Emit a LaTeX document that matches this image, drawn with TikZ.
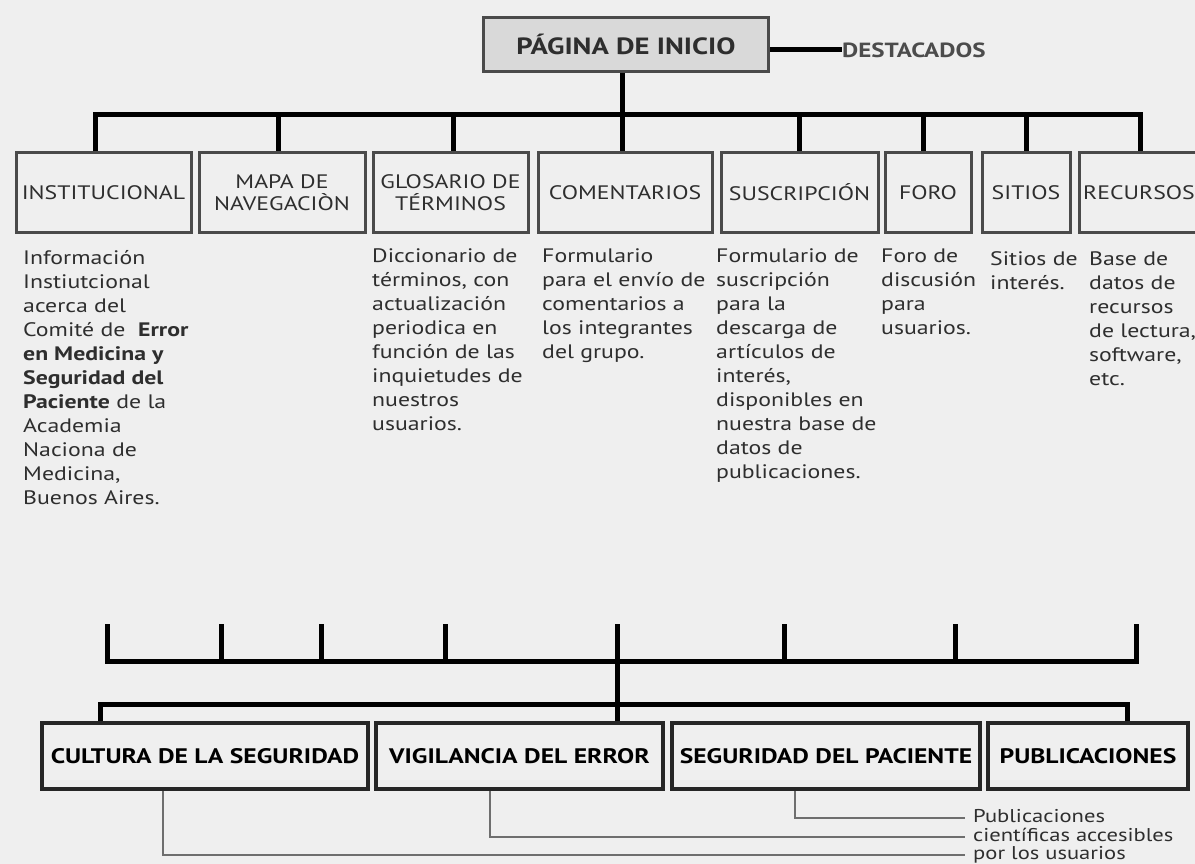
\documentclass[tikz,border=0pt]{standalone}
\usepackage{fontspec}
\usepackage{graphicx}
\setmainfont{PT Sans}[FakeStretch=1.22]
\usetikzlibrary{positioning}

\definecolor{bgpage}{HTML}{EFEFEF}
\definecolor{boxline}{HTML}{4A4A4A}
\definecolor{inkgray}{HTML}{2E2E2E}
\definecolor{topfill}{HTML}{D9D9D9}
\definecolor{leadgray}{HTML}{6E6E6E}

\begin{document}
\begin{tikzpicture}[x=1pt,y=-1pt,
    menubox/.style={draw=boxline,line width=3pt,minimum height=79pt,inner sep=2pt,align=center,
      text=inkgray,font=\fontsize{19.5}{22}\selectfont},
    areabox/.style={draw=black!85,line width=4.5pt,minimum height=66pt,inner sep=0pt,
      text=black,font=\fontsize{21}{24}\selectfont\bfseries},
    desctext/.style={anchor=north west,inner sep=0pt,align=left,text=inkgray,
      font=\fontsize{19.5}{24}\selectfont},
    busline/.style={line width=5pt},
    leadline/.style={draw=leadgray,line width=2pt},
    notetext/.style={anchor=west,inner sep=0pt,text height=11pt,text depth=3pt,
      text=inkgray,font=\fontsize{18.5}{19}\selectfont}]

    \useasboundingbox (0,0) rectangle (1195,864);
    \clip (0,0) rectangle (1195,864);
    \fill[bgpage] (0,0) rectangle (1195,864);

    % home page
    \node[draw=boxline,line width=3pt,fill=topfill,minimum width=285pt,minimum height=54pt,
      text=inkgray,font=\fontsize{23.5}{26}\selectfont\bfseries] (inicio) at (626,44.5) {PÁGINA DE INICIO};
    \node[anchor=west,inner sep=0pt,text=black!70,font=\fontsize{20.5}{22}\selectfont\bfseries]
      (destacados) at (842,50) {DESTACADOS};
    \draw[busline] (inicio.east |- destacados.west) -- (destacados.west);

    % menu boxes
    \node[menubox,minimum width=175pt] (inst)     at (103.5,192.5) {INSTITUCIONAL};
    \node[menubox,minimum width=166pt] (mapa)     at (282,192.5)   {MAPA DE\\NAVEGACIÒN};
    \node[menubox,minimum width=155pt] (glos)     at (450.5,192.5) {GLOSARIO DE\\TÉRMINOS};
    \node[menubox,minimum width=174pt] (coment)   at (625,192.5)   {COMENTARIOS};
    \node[menubox,minimum width=157pt] (susc)     at (799.5,192.5) {SUSCRIPCIÓN};
    \node[menubox,minimum width=86pt]  (foro)     at (928,192.5)   {FORO};
    \node[menubox,minimum width=88pt]  (sitios)   at (1026,192.5)  {SITIOS};
    \node[menubox,minimum width=136pt] (recursos) at (1147,192.5)  {RECURSOS\hspace*{16pt}};

    \coordinate (busL) at (95,115);
    \coordinate (busR) at (1140,115);
    \draw[busline] ([xshift=-4pt]inicio.south) -- ([xshift=-4pt]inicio.south |- busL);
    \draw[busline] (busL |- inst.north) -- (busL) -- (busR) -- (busR |- recursos.north);
    \foreach \nd/\xx in {mapa/278,glos/453,coment/622,susc/799,foro/923,sitios/1026} {
      \coordinate (d\nd) at (\xx,115);
      \draw[busline] (d\nd) -- (d\nd |- \nd.north);
    }

    % descriptions
    \node[desctext] (dinst) at (23,250) {Información\\Instiutcional\\acerca del\\Comité de~ \textbf{Error}\\
      \textbf{en Medicina y}\\\textbf{Seguridad del}\\\textbf{Paciente} de la\\Academia\\Naciona de\\
      Medicina,\\Buenos Aires.};
    \node[desctext] (dglos) at (372,248) {Diccionario de\\términos, con\\actualización\\periodica en\\
      función de las\\inquietudes de\\nuestros\\usuarios.};
    \node[desctext] (dcoment) at (542,248) {Formulario\\para el envío de\\comentarios a\\los integrantes\\del grupo.};
    \node[desctext] (dsusc) at (716,248) {Formulario de\\suscripción\\para la\\descarga de\\artículos de\\
      interés,\\disponibles en\\nuestra base de\\datos de\\publicaciones.};
    \node[desctext] (dforo) at (881,249) {Foro de\\discusión\\para\\usuarios.};
    \node[desctext] (dsitios) at (990,251) {Sitios de\\interés.};
    \node[desctext] (drecursos) at (1089,251) {Base de\\datos de\\recursos\\de lectura,\\software,\\etc.};

    % lower comb
    \coordinate (combL) at (107,661);
    \coordinate (combR) at (1136,661);
    \draw[busline] (combL) ++(0,-37) -- (combL) -- (combR) -- ++(0,-37);
    \foreach \xx in {221,321,445,784,955}
      \draw[busline] (\xx,624) -- (\xx,661);

    % areas
    \node[areabox,minimum width=326pt] (cult) at (205,756)    {CULTURA DE LA SEGURIDAD};
    \node[areabox,minimum width=287pt] (vig)  at (519.5,756)  {VIGILANCIA DEL ERROR};
    \node[areabox,minimum width=308pt] (segp) at (826,756)    {SEGURIDAD DEL PACIENTE};
    \node[areabox,minimum width=200pt] (publ) at (1088,756)   {PUBLICACIONES};

    \coordinate (stem) at (617,624);
    \draw[busline] (stem) -- (stem |- vig.north);
    \coordinate (lowL) at (100,704);
    \coordinate (lowR) at (1127,704);
    \draw[busline] (lowL |- cult.north) -- (lowL) -- (lowR) -- (lowR |- publ.north);

    % notes
    \node[notetext] (pa) at (973,818) {Publicaciones};
    \node[notetext] (pb) at (973,837) {científicas accesibles};
    \node[notetext] (pc) at (973,855) {por los usuarios};
    \draw[leadline] ([xshift=-31pt]segp.south) |- ([xshift=-8pt]pa.west);
    \draw[leadline] ([xshift=-29.5pt]vig.south) |- ([xshift=-8pt]pb.west);
    \draw[leadline] ([xshift=-42pt]cult.south) |- ([xshift=-8pt]pc.west);
\end{tikzpicture}
\end{document}
